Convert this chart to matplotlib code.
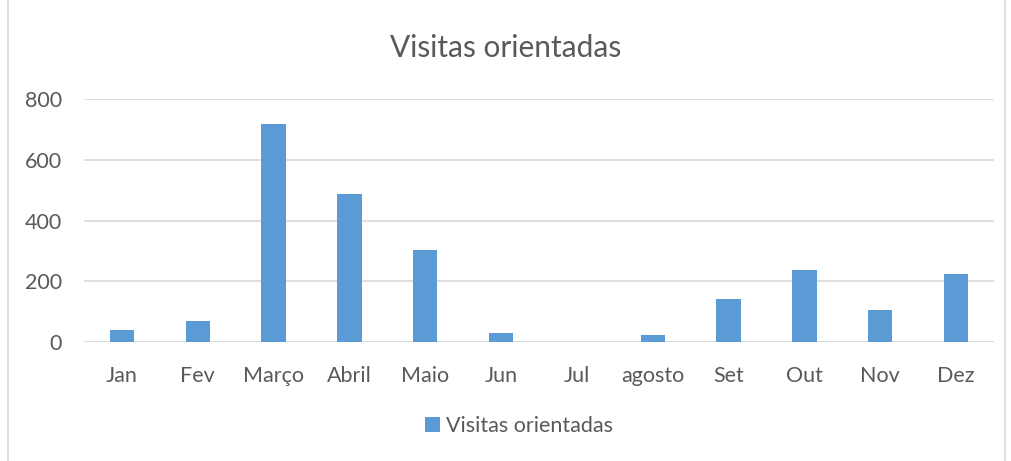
import matplotlib.pyplot as plt
from matplotlib.patches import Rectangle

months = ["Jan", "Fev", "Março", "Abril", "Maio", "Jun", "Jul", "agosto",
          "Set", "Out", "Nov", "Dez"]
visitas = [38, 68, 718, 486, 302, 28, 0, 22, 141, 236, 104, 225]
series_name = "Visitas orientadas"
yticks = [0, 200, 400, 600, 800]

plt.rcParams['font.family'] = ['Lato', 'DejaVu Sans']
text_col = "#595959"
grid_col = "#D9D9D9"
bar_col = "#5B9BD5"

fig = plt.figure(figsize=(10.11, 4.61), dpi=100)
ax = fig.add_axes([84 / 1011, 1 - 342 / 461, 910 / 1011, 243 / 461])

x = range(len(months))
ax.bar(x, visitas, width=0.32, color=bar_col, label=series_name, zorder=3)

ax.set_xlim(-0.5, len(months) - 0.5)
ax.set_ylim(0, 800)
ax.set_yticks(yticks)
ax.set_xticks(list(x))
ax.set_xticklabels(months)
ax.grid(axis='y', color=grid_col, linewidth=1.2, zorder=0)
for s in ax.spines.values():
    s.set_visible(False)
ax.axhline(0, color=grid_col, linewidth=1.2, zorder=2)
ax.tick_params(length=0, labelsize=15.5, colors=text_col)
ax.tick_params(axis='x', pad=17)
ax.tick_params(axis='y', pad=16)

fig.text(0.5, 1 - 48 / 461, series_name, ha='center', va='center',
         fontsize=21.5, color=text_col)

leg = fig.legend(loc='center', bbox_to_anchor=(519 / 1011, 1 - 426 / 461),
                 frameon=False, fontsize=15.5, handlelength=0.7,
                 handleheight=0.7, handletextpad=0.3)
for t in leg.get_texts():
    t.set_color(text_col)

fig.patches.append(Rectangle((8 / 1011, -0.01), 997 / 1011, 1.02,
                             transform=fig.transFigure, fill=False,
                             edgecolor=grid_col, linewidth=1.2))

fig.savefig("out.png", dpi=100)
